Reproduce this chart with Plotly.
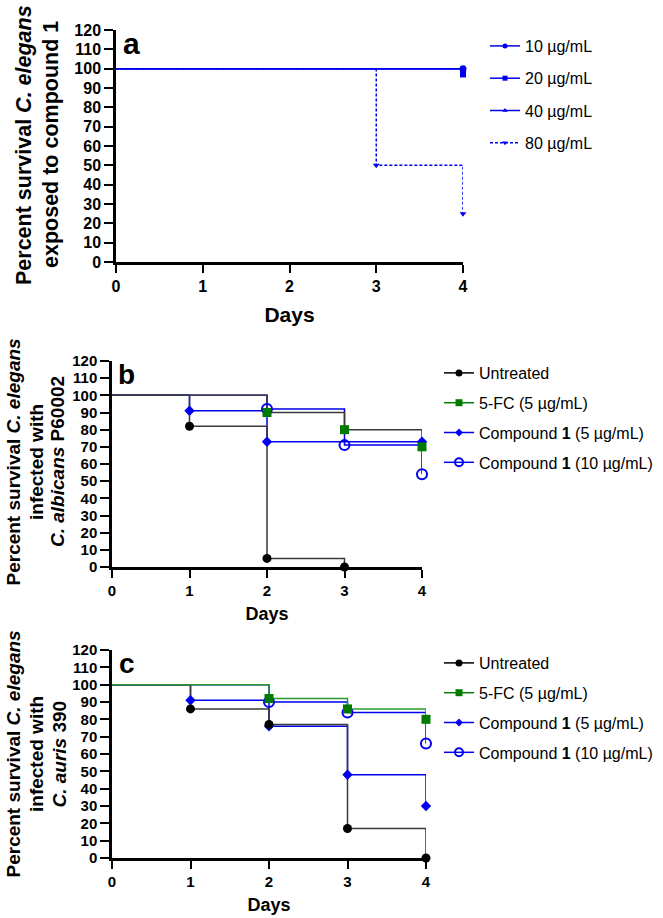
import plotly.graph_objects as go

days = [0, 1, 2, 3, 4]
y_ticks = list(range(0, 121, 10))

# Panel a: survival of C. elegans exposed to compound 1
a_names = ["10 µg/mL", "20 µg/mL", "40 µg/mL", "80 µg/mL"]
a_10 = [100, 100, 100, 100, 100]
a_20 = [100, 100, 100, 100, 97]
a_40 = [100, 100, 100, 100, 99]
a_80 = [100, 100, 100, 50, 25]

# Panel b: infected with C. albicans P60002
bc_names = ["Untreated", "5-FC (5 µg/mL)", "Compound <b>1</b> (5 µg/mL)", "Compound <b>1</b> (10 µg/mL)"]
b_untreated = [100, 82, 5, 0, None]
b_5fc = [100, 100, 90, 80, 70]
b_c1_5 = [100, 91, 73, 73, 73]
b_c1_10 = [100, 100, 92, 71, 54]

# Panel c: infected with C. auris 390
c_untreated = [100, 86, 77, 17, 0]
c_5fc = [100, 100, 92, 86, 80]
c_c1_5 = [100, 91, 76, 48, 30]
c_c1_10 = [100, 100, 90, 84, 66]

# y-axis title lines per panel
ytitle_lines = {
    1: ["Percent survival <i>C. elegans</i>", "exposed to compound 1"],
    2: ["Percent survival <i>C. elegans</i>", "infected with", "<i>C. albicans</i> P60002"],
    3: ["Percent survival <i>C. elegans</i>", "infected with", "<i>C. auris</i> 390"],
}

FONT = "Liberation Sans, Arial, sans-serif"
BLUE = "#0000EE"
GREEN = "#007A00"
BLACK = "#000000"
GRAY = "#3a3a3a"

fig = go.Figure()
line_traces, marker_traces, legend_traces = [], [], []


def add_series(k, vals, name, color, line_color, symbol, size, open_marker=False, dash="solid",
               legend="legend", group="", zline=0):
    xa = "x" if k == 1 else f"x{k}"
    ya = "y" if k == 1 else f"y{k}"
    xs = [d for d, v in zip(days, vals) if v is not None]
    ys = [v for v in vals if v is not None]
    line_traces.append((zline, go.Scatter(
        x=xs, y=ys, mode="lines", line=dict(color=line_color, width=1.5, dash=dash, shape="hv"),
        xaxis=xa, yaxis=ya, showlegend=False, legendgroup=group, hoverinfo="skip", cliponaxis=False)))
    mi = [i for i in range(1, len(ys)) if ys[i] < ys[i - 1] or i == len(ys) - 1]
    if open_marker:
        mk = dict(symbol=symbol + "-open", size=size, color=color, line=dict(color=color, width=2))
    else:
        mk = dict(symbol=symbol, size=size, color=color, line=dict(width=0))
    marker_traces.append(go.Scatter(
        x=[xs[i] for i in mi], y=[ys[i] for i in mi], mode="markers", marker=mk,
        xaxis=xa, yaxis=ya, showlegend=False, legendgroup=group, cliponaxis=False, name=name))
    lmk = dict(mk)
    lmk["size"] = max(size - 2, 5)
    legend_traces.append(go.Scatter(
        x=[None], y=[None], mode="lines+markers", name=name,
        line=dict(color=color, width=1.5, dash=dash), marker=lmk,
        xaxis=xa, yaxis=ya, showlegend=True, legend=legend, legendgroup=group))


# panel a
add_series(1, a_10, a_names[0], BLUE, BLUE, "circle", 7, legend="legend", group="a1")
add_series(1, a_20, a_names[1], BLUE, BLUE, "square", 6, legend="legend", group="a2")
add_series(1, a_40, a_names[2], BLUE, BLUE, "triangle-up", 6, legend="legend", group="a3")
add_series(1, a_80, a_names[3], BLUE, BLUE, "triangle-down", 6, dash="3px,2px", legend="legend", group="a4")

# panel b
add_series(2, b_untreated, bc_names[0], BLACK, GRAY, "circle", 9, legend="legend2", group="b1", zline=2)
add_series(2, b_5fc, bc_names[1], GREEN, GRAY, "square", 9, legend="legend2", group="b2", zline=3)
add_series(2, b_c1_5, bc_names[2], BLUE, BLUE, "diamond", 8, legend="legend2", group="b3", zline=1)
add_series(2, b_c1_10, bc_names[3], BLUE, BLUE, "circle", 10, open_marker=True, legend="legend2", group="b4", zline=0)

# panel c
add_series(3, c_untreated, bc_names[0], BLACK, GRAY, "circle", 9, legend="legend3", group="c1", zline=2)
add_series(3, c_5fc, bc_names[1], GREEN, "#2e9a2e", "square", 9, legend="legend3", group="c2", zline=3)
add_series(3, c_c1_5, bc_names[2], BLUE, BLUE, "diamond", 8, legend="legend3", group="c3", zline=1)
add_series(3, c_c1_10, bc_names[3], BLUE, BLUE, "circle", 10, open_marker=True, legend="legend3", group="c4", zline=0)

for _, t in sorted(line_traces, key=lambda p: p[0]):
    fig.add_trace(t)
for t in marker_traces[::-1]:
    fig.add_trace(t)
for t in legend_traces:
    fig.add_trace(t)

W, H = 663, 918


def px_x(p):
    return p / W


def px_y(p):
    return 1 - p / H


domains = {
    1: ([px_x(116), px_x(463)], [px_y(262), px_y(30)]),
    2: ([px_x(112), px_x(422)], [px_y(567), px_y(361)]),
    3: ([px_x(112), px_x(426)], [px_y(858), px_y(650)]),
}
tick_sz = {1: 16, 2: 15, 3: 15}
xtitle_sz = {1: 21, 2: 18, 3: 18}
xtitle_standoff = {1: 14, 2: 10, 3: 10}

layout = {}
for k in (1, 2, 3):
    xn = "xaxis" if k == 1 else f"xaxis{k}"
    yn = "yaxis" if k == 1 else f"yaxis{k}"
    xa = "x" if k == 1 else f"x{k}"
    ya = "y" if k == 1 else f"y{k}"
    layout[xn] = dict(
        domain=domains[k][0], anchor=ya, range=[0, 4], tickvals=days, ticktext=[str(d) for d in days],
        showline=True, linecolor="black", linewidth=2.5, ticks="outside", ticklen=8, tickwidth=2,
        tickcolor="black", showgrid=False, zeroline=False, automargin=False,
        tickfont=dict(family=FONT, size=tick_sz[k], color="black", weight="bold"),
        title=dict(text="<b>Days</b>", font=dict(family=FONT, size=xtitle_sz[k], color="black"),
                   standoff=xtitle_standoff[k]))
    layout[yn] = dict(
        domain=domains[k][1], anchor=xa, range=[0, 120], tickvals=y_ticks,
        showline=True, linecolor="black", linewidth=2.5, ticks="outside", ticklen=9, tickwidth=2,
        tickcolor="black", showgrid=False, zeroline=False, automargin=False,
        tickfont=dict(family=FONT, size=tick_sz[k], color="black", weight="bold"))

leg_common = dict(font=dict(family=FONT, size=16, color="black"), bgcolor="rgba(0,0,0,0)",
                  borderwidth=0, traceorder="grouped", xanchor="left", yanchor="top", itemwidth=30)
layout["legend"] = dict(leg_common, x=px_x(485), y=px_y(29), tracegroupgap=8.5)
layout["legend2"] = dict(leg_common, x=px_x(439), y=px_y(356), tracegroupgap=6)
layout["legend3"] = dict(leg_common, x=px_x(439), y=px_y(646), tracegroupgap=6)

panel_labels = [("a", 131, 44, 30), ("b", 126, 374, 28), ("c", 127, 663, 28)]
annotations = [dict(text=f"<b>{t}</b>", x=px_x(x), y=px_y(y), xref="paper", yref="paper",
                    showarrow=False, font=dict(family=FONT, size=s, color="black"),
                    xanchor="center", yanchor="middle") for t, x, y, s in panel_labels]

# y-axis titles, one rotated text line each
ytitle_pos = {
    1: dict(size=21.5, xs=[24, 51], y=145),
    2: dict(size=19, xs=[12.5, 36, 57], y=462),
    3: dict(size=19, xs=[12.5, 36, 58.5], y=754),
}
for k, lines in ytitle_lines.items():
    p = ytitle_pos[k]
    for line, xc in zip(lines, p["xs"]):
        annotations.append(dict(
            text=f"<b>{line}</b>", x=px_x(xc), y=px_y(p["y"]), xref="paper", yref="paper",
            showarrow=False, textangle=-90, xanchor="center", yanchor="middle", borderpad=0,
            font=dict(family=FONT, size=p["size"], color="black")))

fig.update_layout(
    width=W, height=H, margin=dict(l=0, r=0, t=0, b=0, autoexpand=False),
    paper_bgcolor="white", plot_bgcolor="white",
    annotations=annotations, **layout)

fig.write_html("out.html", config={"displayModeBar": False},
               post_script="document.body.style.margin='0';document.body.style.overflow='hidden';")
